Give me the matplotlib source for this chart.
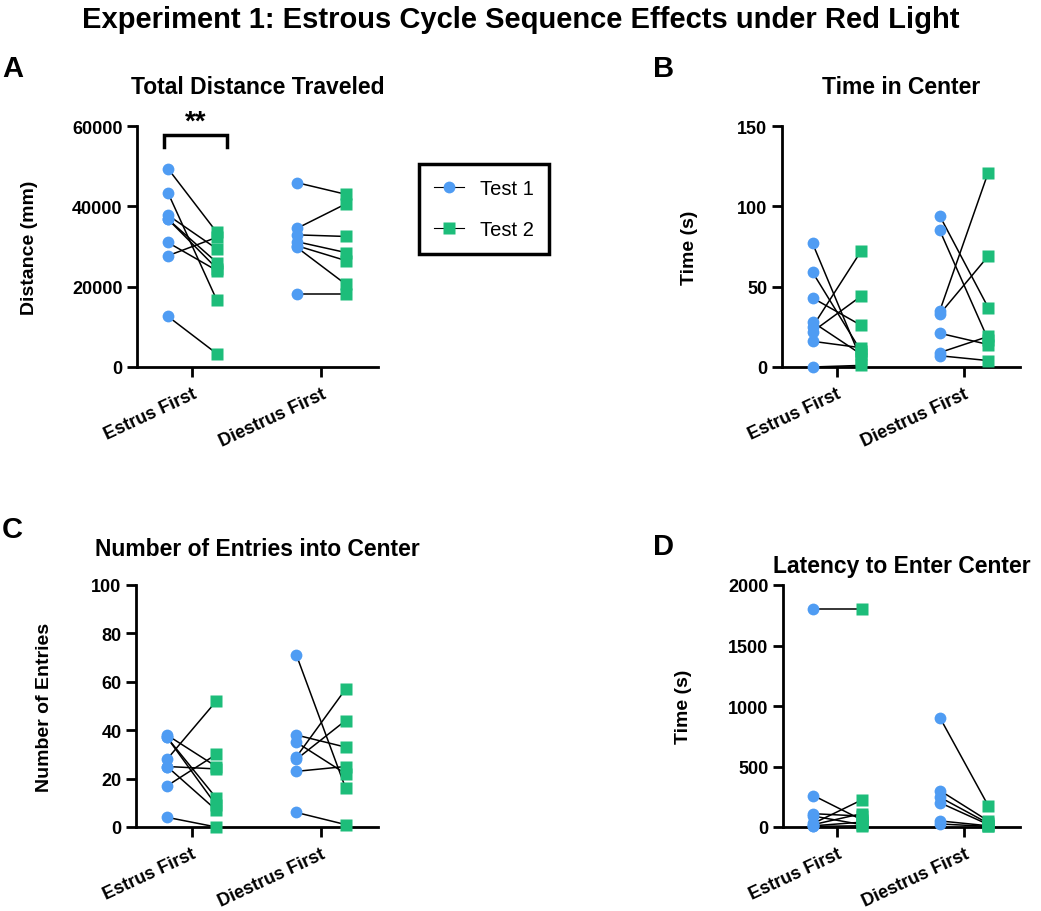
import matplotlib.pyplot as plt
from matplotlib.lines import Line2D

plt.rcParams['font.family'] = ['Liberation Sans', 'DejaVu Sans']
plt.rcParams['font.weight'] = 'bold'

groups = ['Estrus First', 'Diestrus First']

# Total distance traveled (mm)
dist_estrus_t1 = [49400, 43400, 37800, 36800, 36800, 31000, 27700, 12600]
dist_estrus_t2 = [33500, 16600, 29400, 26000, 24500, 24000, 32300, 3300]
dist_diestrus_t1 = [45900, 34500, 32900, 31200, 30200, 29800, 18200]
dist_diestrus_t2 = [43000, 40600, 32500, 28500, 26500, 20600, 18200]

# Time in center (s)
time_estrus_t1 = [77, 59, 43, 28, 25, 22, 16, 0]
time_estrus_t2 = [5, 10, 26, 8, 72, 44, 12, 1]
time_diestrus_t1 = [94, 85, 35, 33, 21, 9, 7]
time_diestrus_t2 = [37, 17, 121, 69, 14, 19, 4]

# Number of entries into center
entries_estrus_t1 = [38, 37, 37, 28, 25, 25, 17, 4]
entries_estrus_t2 = [25, 12, 9, 52, 24, 7, 30, 0]
entries_diestrus_t1 = [71, 38, 35, 29, 28, 23, 6]
entries_diestrus_t2 = [16, 33, 22, 57, 44, 25, 1]

# Latency to enter center (s)
lat_estrus_t1 = [1800, 260, 110, 90, 30, 20, 10, 5]
lat_estrus_t2 = [1800, 60, 90, 20, 223, 110, 40, 10]
lat_diestrus_t1 = [900, 300, 245, 200, 50, 25]
lat_diestrus_t2 = [175, 50, 30, 20, 10, 5]

blue = '#4f9cf3'
green = '#1dbd7a'
off = 0.19

W, H = 1041, 912
fig = plt.figure(figsize=(W / 100, H / 100), dpi=100)


def rect(l, r, t, b):
    return [l / W, 1 - b / H, (r - l) / W, (b - t) / H]


def panel(pos, t1s, t2s, ylim, yticks, ylabel, title, letter, title_y, letter_xy, label_x):
    ax = fig.add_axes(rect(*pos))
    for i, (a, b) in enumerate(zip(t1s, t2s)):
        for y1, y2 in zip(a, b):
            ax.plot([i - off, i + off], [y1, y2], color='black', lw=1.1, zorder=2, clip_on=False)
        ax.plot([i - off] * len(a), a, 'o', color=blue, ms=8.5, mec='none', zorder=3, clip_on=False)
        ax.plot([i + off] * len(b), b, 's', color=green, ms=8, mec='none', zorder=3, clip_on=False)
    ax.set_xlim(-0.43, 1.44)
    ax.set_ylim(*ylim)
    ax.set_yticks(yticks)
    ax.set_xticks([0, 1])
    ax.set_xticklabels(groups, rotation=25, ha='right', rotation_mode='anchor', fontsize=13)
    ax.tick_params(axis='y', labelsize=13, width=2, length=7)
    ax.tick_params(axis='x', width=2, length=7, pad=6)
    for s in ['top', 'right']:
        ax.spines[s].set_visible(False)
    for s in ['left', 'bottom']:
        ax.spines[s].set_linewidth(2)
    fig.text(label_x / W, 1 - (pos[2] + pos[3]) / 2 / H, ylabel, rotation=90,
             ha='center', va='center', fontsize=14)
    fig.text((pos[0] + pos[1]) / 2 / W, 1 - title_y / H, title, ha='center', va='center', fontsize=16.5)
    fig.text(letter_xy[0] / W, 1 - letter_xy[1] / H, letter, ha='left', va='center', fontsize=21)
    return ax


axA = panel((137, 378, 127, 368), [dist_estrus_t1, dist_diestrus_t1], [dist_estrus_t2, dist_diestrus_t2],
            (0, 60000), [0, 20000, 40000, 60000], 'Distance (mm)', 'Total Distance Traveled', 'A',
            88, (2, 69), 30)
axB = panel((782, 1020, 127, 368), [time_estrus_t1, time_diestrus_t1], [time_estrus_t2, time_diestrus_t2],
            (0, 150), [0, 50, 100, 150], 'Time (s)', 'Time in Center', 'B',
            88, (653, 69), 690)
axC = panel((136, 378, 586, 828), [entries_estrus_t1, entries_diestrus_t1], [entries_estrus_t2, entries_diestrus_t2],
            (0, 100), [0, 20, 40, 60, 80, 100], 'Number of Entries', 'Number of Entries into Center', 'C',
            549, (2, 530), 45)
axD = panel((783, 1020, 586, 828), [lat_estrus_t1, lat_diestrus_t1], [lat_estrus_t2, lat_diestrus_t2],
            (0, 2000), [0, 500, 1000, 1500, 2000], 'Time (s)', 'Latency to Enter Center', 'D',
            567, (653, 547), 683)

# significance bracket on panel A
axA.plot([-0.22, -0.22, 0.27, 0.27], [54800, 57800, 57800, 54800], color='black', lw=2.5,
         clip_on=False, solid_joinstyle='miter')
axA.text(0.025, 61000, '**', ha='center', va='center', fontsize=20)

handles = [Line2D([], [], color='black', lw=0.8, marker='o', ms=8.5, mfc=blue, mec='none'),
           Line2D([], [], color='black', lw=0.8, marker='s', ms=8, mfc=green, mec='none')]
leg = fig.legend(handles, ['Test 1', 'Test 2'], loc='upper left',
                 bbox_to_anchor=(419 / W, 1 - 165 / H), frameon=True, fancybox=False,
                 prop={'weight': 'normal', 'size': 14.5}, handlelength=1.5, borderpad=0.75,
                 labelspacing=1.1, handletextpad=0.8, borderaxespad=0)
leg.get_frame().set_edgecolor('black')
leg.get_frame().set_linewidth(2.5)
leg.get_frame().set_alpha(1)

fig.text(0.5, 1 - 20 / H, 'Experiment 1: Estrous Cycle Sequence Effects under Red Light',
         ha='center', va='center', fontsize=21)

fig.savefig('out.png', dpi=100)
